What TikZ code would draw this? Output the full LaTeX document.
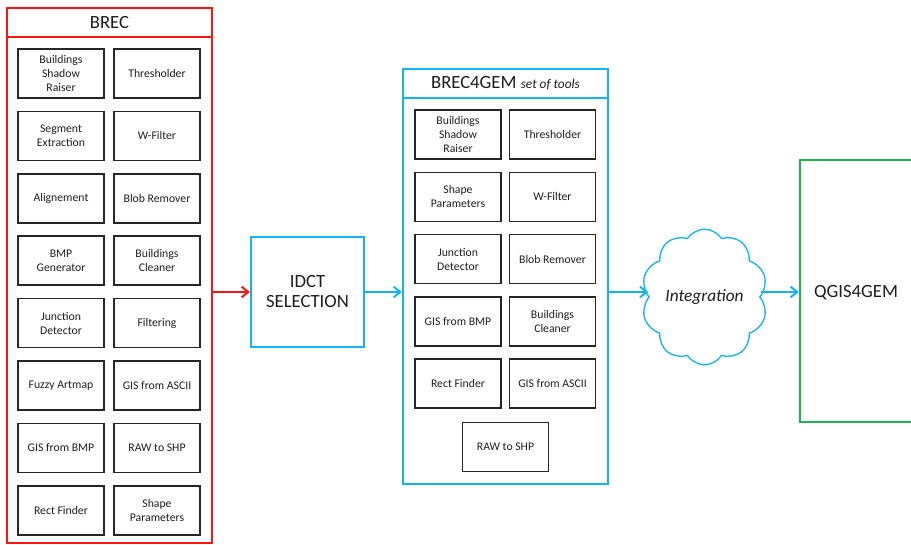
\documentclass[tikz,border=0pt]{standalone}
\usepackage{fontspec}
\setmainfont{Carlito}
\usetikzlibrary{shapes.symbols,arrows.meta}
\definecolor{brecred}{RGB}{255,20,20}
\definecolor{gemblue}{RGB}{20,180,240}
\definecolor{qgisgreen}{RGB}{30,180,80}
\definecolor{txtgrey}{RGB}{30,30,30}
\newcommand{\tool}[4]{\node[tool] (#1) at (#2,#3) {#4};}

\begin{document}
\begin{tikzpicture}[x=0.75pt,y=-0.75pt,
    >={Straight Barb[length=5pt,width=8pt]},
    tool/.style={draw=black!85, line width=1.1pt, minimum width=64.5pt, minimum height=36.75pt,
        align=center, text=txtgrey, inner sep=1pt, font=\fontsize{8.8}{10.5}\selectfont},
    frame/.style={line width=1.7pt, minimum width=153.75pt},
    header/.style={frame, minimum height=21.75pt, text=txtgrey, font=\fontsize{14}{16}\selectfont},
    link/.style={->, line width=1.5pt}]
    \useasboundingbox (0,0) rectangle (911,545);
    % BREC
    \node[frame, draw=brecred, minimum height=401.25pt] (brec) at (109.5,275.5) {};
    \node[header, draw=brecred] (brectitle) at (109.5,22.5) {BREC};
    \tool{bsr}{61}{73.5}{Buildings\\Shadow\\Raiser}
    \tool{thr}{157}{73.5}{Thresholder}
    \tool{segext}{61}{135.9}{Segment\\Extraction}
    \tool{wfil}{157}{135.9}{W-Filter}
    \tool{alig}{61}{198.3}{Alignement}
    \tool{blob}{157}{198.3}{Blob Remover}
    \tool{bmpgen}{61}{260.7}{BMP\\Generator}
    \tool{bclean}{157}{260.7}{Buildings\\Cleaner}
    \tool{junc}{61}{323.1}{Junction\\Detector}
    \tool{filt}{157}{323.1}{Filtering}
    \tool{fuzzy}{61}{385.5}{Fuzzy Artmap}
    \tool{gisascii}{157}{385.5}{GIS from ASCII}
    \tool{gisbmp}{61}{447.9}{GIS from BMP}
    \tool{rawshp}{157}{447.9}{RAW to SHP}
    \tool{rectf}{61}{510.3}{Rect Finder}
    \tool{shapep}{157}{510.3}{Shape\\Parameters}
    % IDCT
    \node[draw=gemblue, line width=1.7pt, minimum width=84.75pt, minimum height=82.5pt, align=center,
        text=txtgrey, font=\fontsize{14}{15}\selectfont] (idct) at (307.5,292) {IDCT\\SELECTION};
    % BREC4GEM
    \node[frame, draw=gemblue, minimum height=311.25pt] (gem) at (505.5,276.5) {};
    \node[header, draw=gemblue] (gemtitle) at (505.5,83.5) {BREC4GEM \fontsize{10}{12}\selectfont\itshape set of tools};
    \tool{gbsr}{458}{134.5}{Buildings\\Shadow\\Raiser}
    \tool{gthr}{552.5}{134.5}{Thresholder}
    \tool{gshapep}{458}{196.8}{Shape\\Parameters}
    \tool{gwfil}{552.5}{196.8}{W-Filter}
    \tool{gjunc}{458}{259.1}{Junction\\Detector}
    \tool{gblob}{552.5}{259.1}{Blob Remover}
    \tool{ggisbmp}{458}{321.4}{GIS from BMP}
    \tool{gbclean}{552.5}{321.4}{Buildings\\Cleaner}
    \tool{grectf}{458}{383.7}{Rect Finder}
    \tool{ggisascii}{552.5}{383.7}{GIS from ASCII}
    \tool{grawshp}{505.5}{447}{RAW to SHP}
    % integration and QGIS4GEM
    \node[cloud, draw=gemblue, line width=1pt, cloud puffs=10, cloud puff arc=115, aspect=0.9,
        minimum width=86pt, minimum height=94pt, inner sep=0pt, text=txtgrey,
        font=\fontsize{13}{15}\selectfont\itshape] (integ) at (704.5,297) {Integration};
    \node[draw=qgisgreen, line width=1.7pt, minimum width=97.5pt, minimum height=196.5pt] (qgis) at (865,291) {};
    \node[text=txtgrey, font=\fontsize{14}{16}\selectfont] (qgistext) at (856,293) {QGIS4GEM};
    % links
    \draw[link, brecred] (brec.east |- idct.west) -- (idct.west);
    \draw[link, gemblue] (idct.east) -- (gem.west |- idct.east);
    \draw[link, gemblue] (gem.east |- idct.east) -- (integ.west |- idct.east);
    \draw[link, gemblue] (integ.east |- idct.east) -- (qgis.west |- idct.east);
\end{tikzpicture}
\end{document}
